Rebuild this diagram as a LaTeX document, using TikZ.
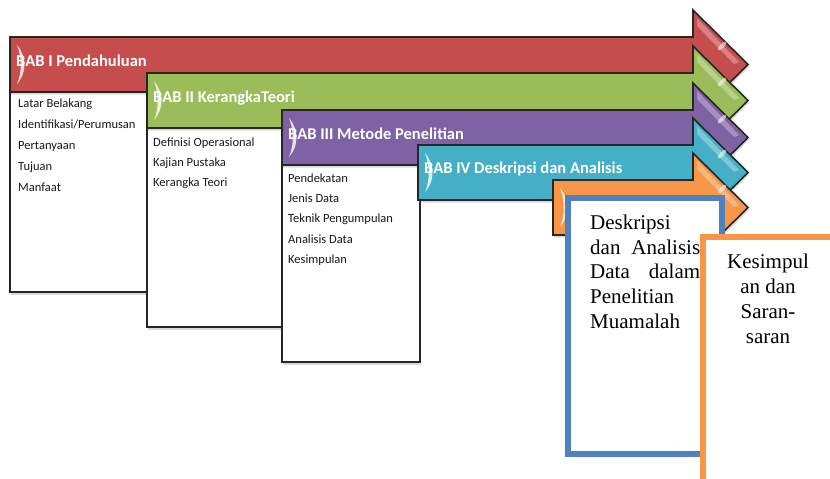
\documentclass[tikz,border=0pt]{standalone}
\usepackage{fontspec}
\newfontfamily\calfont{Carlito}
\newfontfamily\serfont{Liberation Serif}
\usetikzlibrary{shadows}
\definecolor{cred}{HTML}{C54D4B}
\definecolor{cgreen}{HTML}{9BBD59}
\definecolor{cpurple}{HTML}{7F62A4}
\definecolor{caqua}{HTML}{45AFC7}
\definecolor{corange}{HTML}{F79646}
\definecolor{cblue}{HTML}{4F81BD}
\definecolor{edgec}{HTML}{262626}
\tikzset{
  outl/.style={draw=edgec, line width=1.6pt, line join=miter},
  shade2/.style={drop shadow={shadow xshift=1pt, shadow yshift=-2.5pt, opacity=0.3}},
  bodybox/.style={outl, fill=white, shade2},
  hdrtext/.style={text=white, font=\calfont\bfseries\fontsize{16.5}{18}\selectfont, inner sep=0, anchor=base west},
  itemtext/.style={text=black!90, font=\calfont\fontsize{12.5}{14}\selectfont, inner sep=0, anchor=base west},
  sertext/.style={text=black, font=\serfont\fontsize{21}{24}\selectfont, inner sep=0},
  gloss/.style={fill=white, opacity=0.8},
}
% #1 left, #2 top, #3 colour
\newcommand{\babshape}[3]{%
  \pgfmathsetmacro{\ya}{#2-27}%
  \pgfmathsetmacro{\yb}{#2+27.5}%
  \pgfmathsetmacro{\yc}{#2+82}%
  \pgfmathsetmacro{\yd}{#2+55}%
  \draw[outl, fill=#3, shade2] (#1,#2) -- (693,#2) -- (693,\ya) -- (748,\yb) -- (693,\yc) -- (693,\yd) -- (#1,\yd) -- cycle;
  \fill[gloss] (#1+7,#2+8) .. controls (#1+17,#2+20) and (#1+17,#2+36) .. (#1+7,#2+47) .. controls (#1+12,#2+36) and (#1+12,#2+20) .. (#1+7,#2+8);
  \fill[white, opacity=0.3] (697,\ya+8) -- (739,#2+25) -- (734,#2+27) -- (697,\ya+16) -- cycle;
  \fill[white, opacity=0.55, rotate around={45:(722,#2+9)}] (722,#2+9) ellipse [x radius=6, y radius=2];
}
\begin{document}
\begin{tikzpicture}[x=1pt, y=-1pt]
\useasboundingbox (0,0) rectangle (830,479);
\clip (0,0) rectangle (830,479);

% BAB I
\draw[bodybox] (10,92) rectangle (147,292);
\babshape{10}{37}{cred}
\node[hdrtext] (h1) at (16,66) {BAB I Pendahuluan};
\node[itemtext] (i11) at (18,107) {Latar Belakang};
\node[itemtext] (i12) at (18,128) {Identifikasi/Perumusan};
\node[itemtext] (i13) at (18,149) {Pertanyaan};
\node[itemtext] (i14) at (18,170) {Tujuan};
\node[itemtext] (i15) at (18,191) {Manfaat};

% BAB II
\draw[bodybox] (147,128) rectangle (282,327);
\babshape{147}{73}{cgreen}
\node[hdrtext] (h2) at (153,102) {BAB II KerangkaTeori};
\node[itemtext] (i21) at (153,146) {Definisi Operasional};
\node[itemtext] (i22) at (153,166) {Kajian Pustaka};
\node[itemtext] (i23) at (153,186) {Kerangka Teori};

% BAB III
\draw[bodybox] (282,165) rectangle (420,362);
\babshape{282}{110}{cpurple}
\node[hdrtext] (h3) at (288,139) {BAB III Metode Penelitian};
\node[itemtext] (i31) at (288,182) {Pendekatan};
\node[itemtext] (i32) at (288,202) {Jenis Data};
\node[itemtext] (i33) at (288,222.5) {Teknik Pengumpulan};
\node[itemtext] (i34) at (288,243) {Analisis Data};
\node[itemtext] (i35) at (288,263) {Kesimpulan};

% BAB IV
\babshape{418}{145}{caqua}
\node[hdrtext] (h4) at (424,173.5) {BAB IV Deskripsi dan Analisis};

% BAB V
\babshape{553}{180}{corange}

% text boxes
\draw[cblue, line width=5.5pt, fill=white] (568,198) rectangle (722,454);
\node[sertext, anchor=base west] (d1) at (590,229) {Deskripsi};
\node[sertext, anchor=base west] (d2) at (590,254) {\makebox[110pt][s]{dan\hfill Analisis}};
\node[sertext, anchor=base west] (d3) at (590,278.5) {\makebox[110pt][s]{Data\hfill dalam}};
\node[sertext, anchor=base west] (d4) at (590,303) {Penelitian};
\node[sertext, anchor=base west] (d5) at (590,328) {Muamalah};

\draw[corange, line width=5.5pt, fill=white] (703,237) rectangle (850,500);
\node[sertext, anchor=base] (k1) at (768,268) {Kesimpul};
\node[sertext, anchor=base] (k2) at (768,293) {an dan};
\node[sertext, anchor=base] (k3) at (768,318) {Saran-};
\node[sertext, anchor=base] (k4) at (768,343) {saran};
\end{tikzpicture}
\end{document}
